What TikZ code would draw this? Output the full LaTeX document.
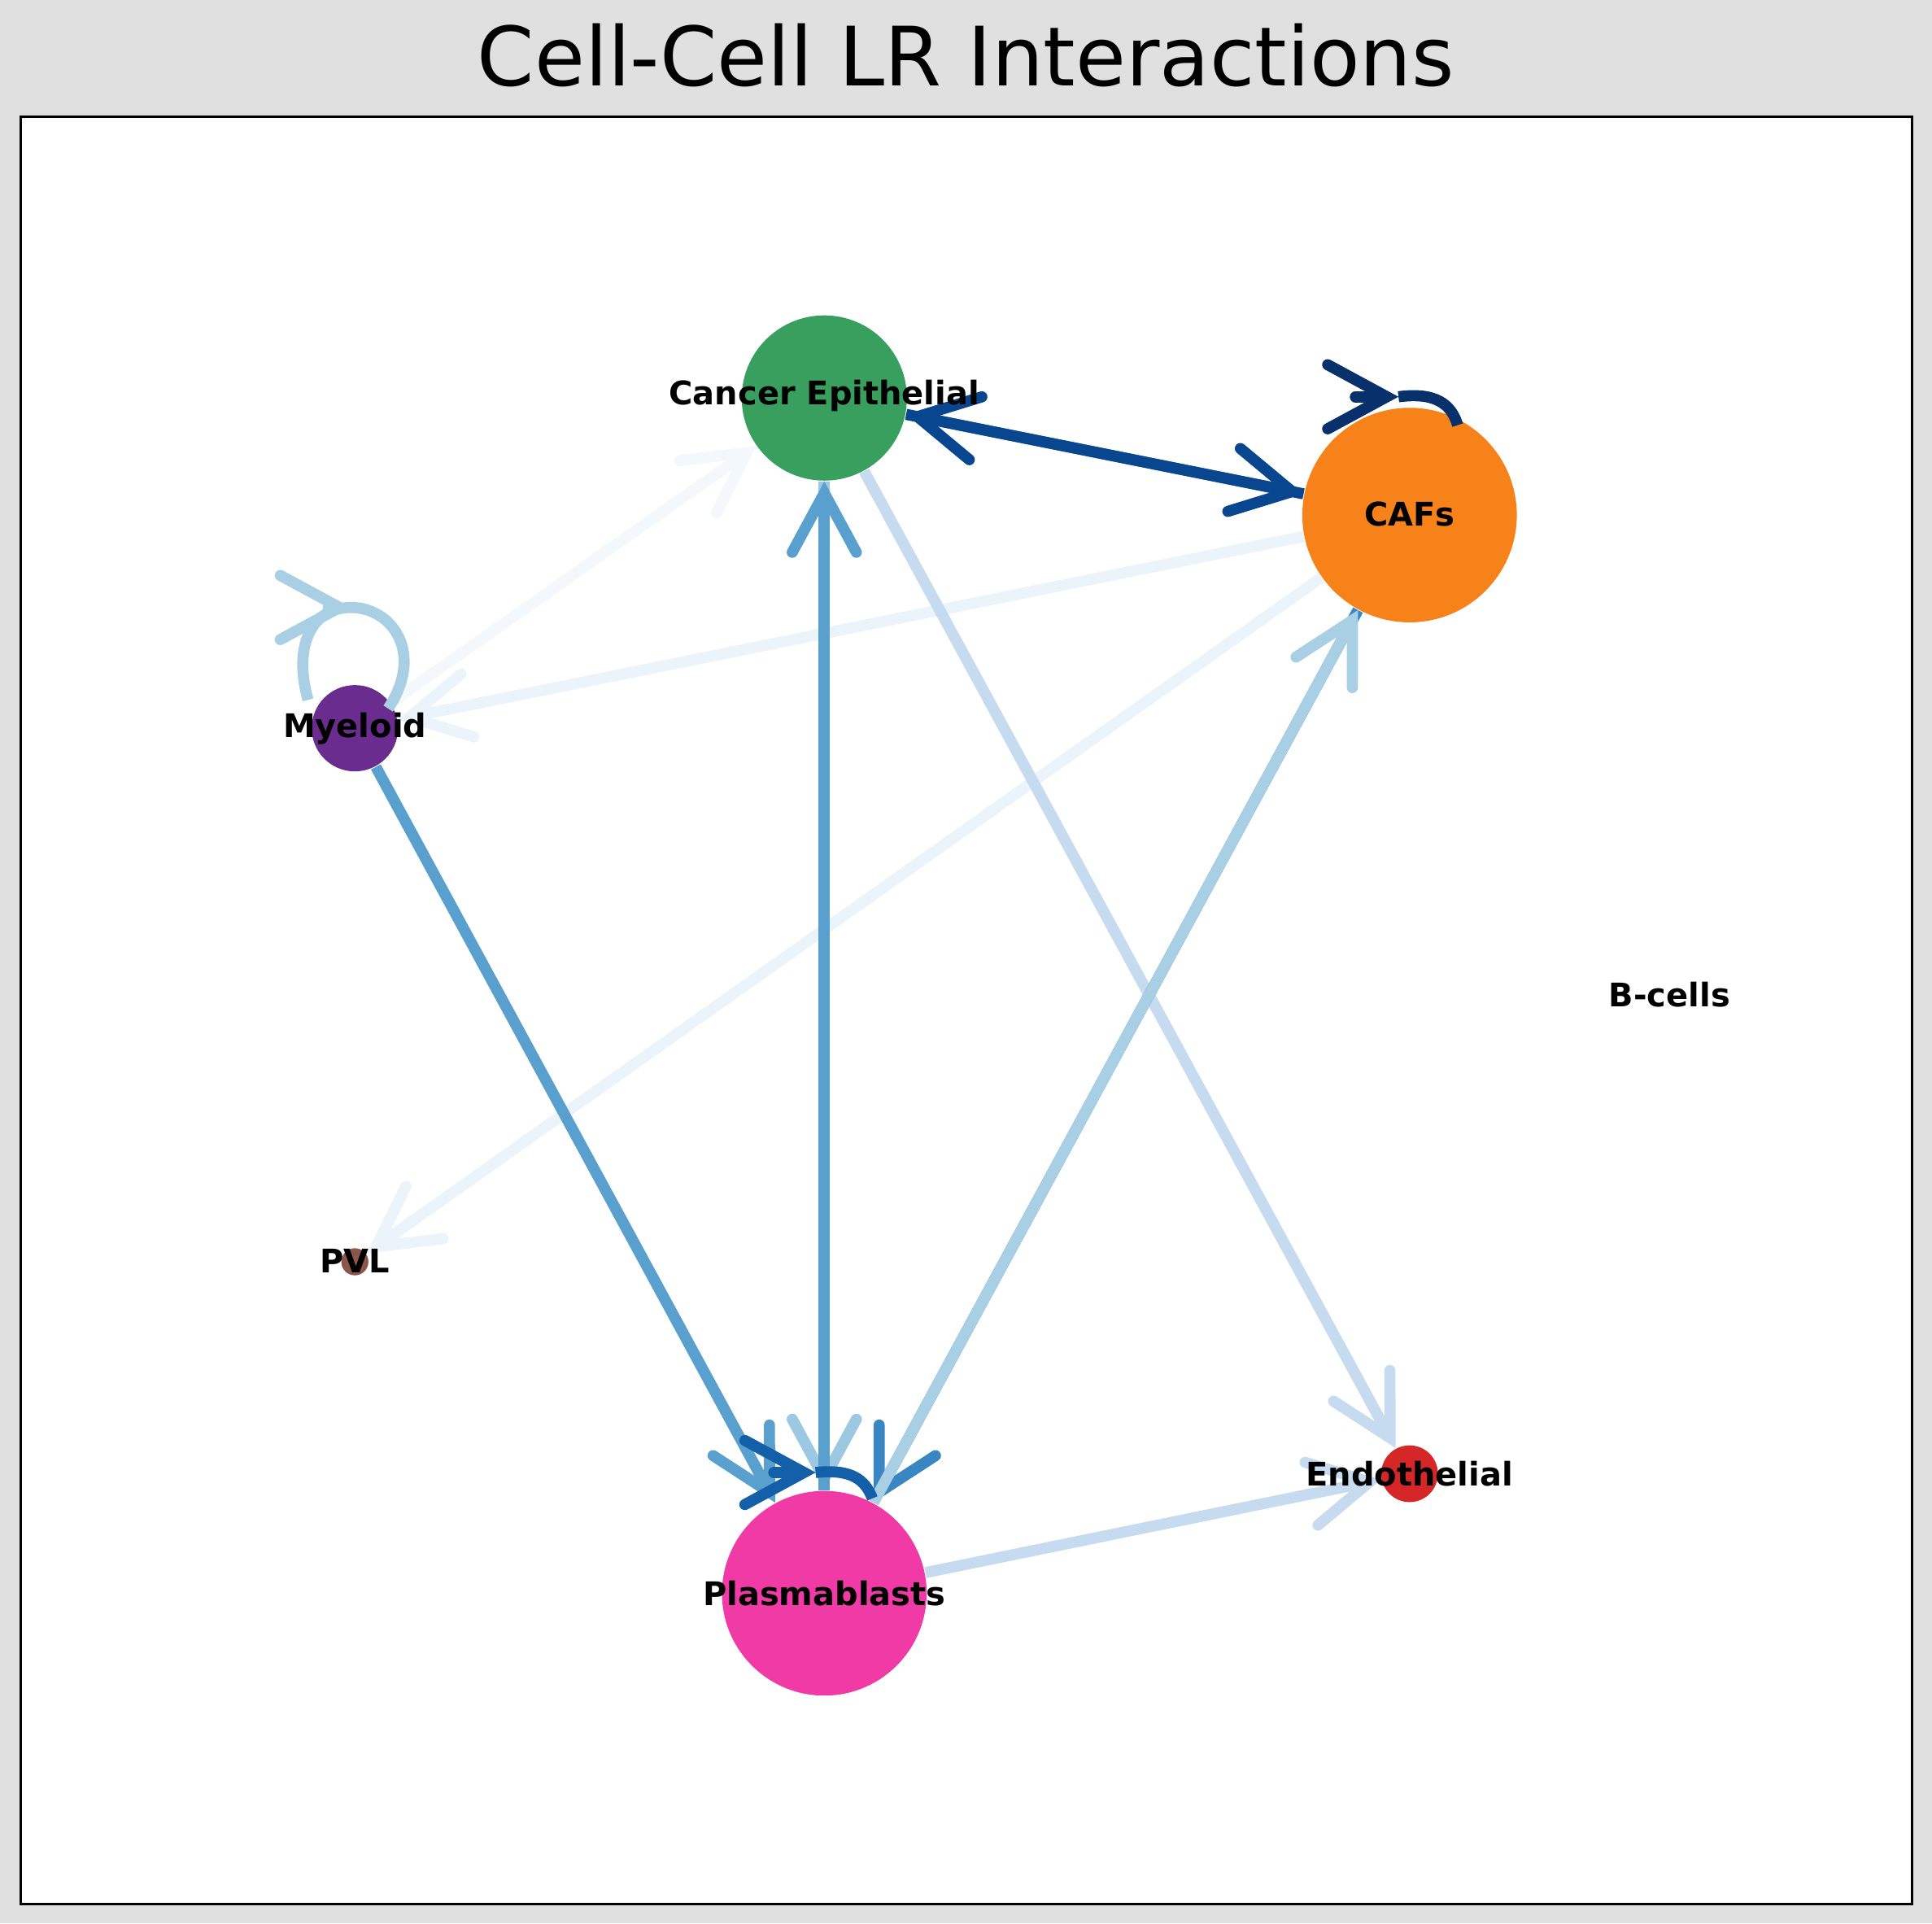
\documentclass[tikz,border=0pt]{standalone}
\usepackage{fontspec}
\setmainfont{DejaVu Sans}
\usetikzlibrary{arrows.meta}
\definecolor{bg}{HTML}{E0E0E0}
\definecolor{cGreen}{HTML}{389F5F}
\definecolor{cOrange}{HTML}{F7821A}
\definecolor{cPurple}{HTML}{6A2C8E}
\definecolor{cBrown}{HTML}{8C564B}
\definecolor{cPink}{HTML}{F03AA6}
\definecolor{cRed}{HTML}{D62728}
\definecolor{bA}{HTML}{08306B}
\definecolor{bB}{HTML}{08468F}
\definecolor{bC}{HTML}{1460A8}
\definecolor{bD}{HTML}{3A86C2}
\definecolor{bE}{HTML}{5AA0CE}
\definecolor{bF}{HTML}{9CC8E2}
\definecolor{bG}{HTML}{A9CFE5}
\definecolor{bH}{HTML}{C6DBEF}
\definecolor{bI}{HTML}{EBF3FB}
\definecolor{bJ}{HTML}{F3F8FD}
\begin{document}
\begin{tikzpicture}[x=0.01cm,y=-0.01cm,
  cell/.style={circle,inner sep=0pt,minimum size=#1},
  lab/.style={font=\fontsize{7.5}{9}\selectfont\bfseries,inner sep=0pt},
  ed/.style={line width=0.09cm,line cap=butt,draw=#1,
    -{Straight Barb[length=0.48cm,width=0.52cm,line cap=round,line width=0.09cm]}},
  lp/.style={line width=0.09cm,draw=#1}]
\fill[bg] (0,0) rectangle (1568,1561);
\useasboundingbox (0,0) rectangle (1568,1561);
\node[font=\fontsize{18.9}{22}\selectfont] (title) at (784,45) {Cell-Cell LR Interactions};
\draw[fill=white,line width=0.6pt] (17,95) rectangle (1552,1545);
% nodes
\node[cell=1.34cm,fill=cGreen] (CE) at (669,323) {};
\node[cell=1.74cm,fill=cOrange] (CAF) at (1144,418) {};
\node[cell=0.70cm,fill=cPurple] (MY) at (288,591) {};
\node[cell=0.22cm,fill=cBrown] (PVL) at (288,1024) {};
\node[cell=1.66cm,fill=cPink] (PB) at (669,1293) {};
\node[cell=0.46cm,fill=cRed] (EN) at (1144,1196) {};
% edges
\draw[ed=bJ] (MY) -- (CE);
\draw[ed=bI] (CAF) -- (MY);
\draw[ed=bI] (CAF) -- (PVL);
\draw[ed=bH] (CE) -- (EN);
\draw[ed=bH] (PB) -- (EN);
\draw[ed=bE] (MY) -- (PB);
\draw[ed=bF] (CE) -- (PB);
\draw[ed=bE] (PB) -- (CE);
\draw[ed=bD] (CAF) -- (PB);
\draw[ed=bG] (PB) -- (CAF);
\draw[ed=bB] (CE) -- (CAF);
\draw[ed=bB] (CAF) -- (CE);
% self loops
\coordinate (cafT) at (1135,322);
\coordinate (cafS) at (1100,322);
\draw[lp=bA] (cafT) .. controls (1165,318) and (1178,328) .. (1183,345);
\draw[ed=bA,line cap=round] (cafS) -- (cafT);
\coordinate (myT) at (285,493);
\coordinate (myS) at (262,493);
\coordinate (myB) at (250,568);
\draw[lp=bG] (myB) .. controls (238,525) and (252,493) .. (myT) .. controls (318,493) and (345,530) .. (315,575);
\draw[ed=bG] (myS) -- (myT);
\coordinate (pbT) at (662,1195);
\coordinate (pbS) at (628,1195);
\draw[lp=bC] (pbT) .. controls (690,1192) and (702,1200) .. (708,1216);
\draw[ed=bC,line cap=round] (pbS) -- (pbT);
% labels
\node[lab] (lCE) at (669,321) {Cancer Epithelial};
\node[lab] (lCAF) at (1144,417) {CAFs};
\node[lab] (lMY) at (288,591) {Myeloid};
\node[lab] (lPVL) at (288,1023) {PVL};
\node[lab] (lPB) at (669,1293) {Plasmablasts};
\node[lab] (lEN) at (1144,1196) {Endothelial};
\node[lab] (lB) at (1355,807) {B-cells};
\end{tikzpicture}
\end{document}
